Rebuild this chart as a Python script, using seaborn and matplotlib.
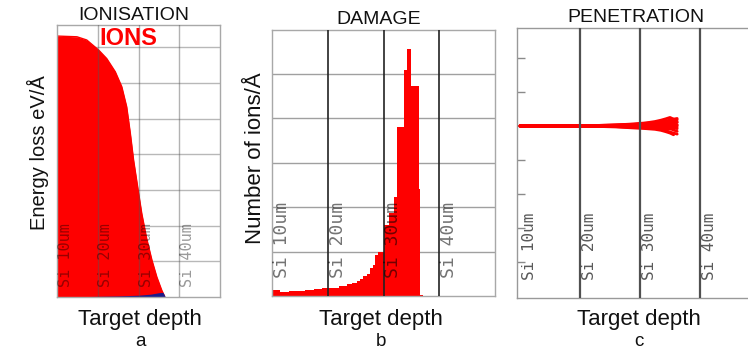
import numpy as np
import pandas as pd
import matplotlib
matplotlib.use("Agg")
import matplotlib.pyplot as plt
import seaborn as sns

# --- Ionisation: energy loss along the target depth (um) ---
ion_depth = [0, 4.9, 7.3, 10.2, 12.2, 14.3, 15.9, 17.1, 18.0, 18.8, 19.8,
             20.8, 22.0, 23.3, 24.5, 25.7, 26.4]
ion_energy = [7.31, 7.29, 7.20, 6.92, 6.68, 6.31, 5.89, 5.33, 4.58, 3.83, 3.08,
              2.34, 1.64, 1.03, 0.56, 0.19, 0.02]
recoil_depth = [0, 5.7, 15.0, 20.0, 23.0, 25.0, 26.0, 26.6]
recoil_energy = [0, 0.01, 0.03, 0.05, 0.08, 0.12, 0.13, 0.0]

# --- Damage: number of ions per Å, histogram bins along the depth ---
damage_edges = [0, 1.5, 3, 4.5, 6, 7.5, 9, 10.5, 12, 13.4, 14.3, 15.2, 15.8,
                16.4, 17.0, 17.6, 18.1, 18.5, 19.1, 20.0, 21.0, 21.9, 22.4,
                23.6, 24.2, 24.9, 26.3, 26.5, 27.0]
damage_counts = [0.14, 0.09, 0.11, 0.12, 0.14, 0.15, 0.17, 0.19, 0.22, 0.26,
                 0.30, 0.34, 0.38, 0.45, 0.50, 0.62, 0.70, 0.92, 0.98, 1.60,
                 1.87, 2.22, 3.80, 5.08, 5.55, 4.72, 2.40, 0.03]

# --- Penetration: lateral position of individual ion tracks ---
track_depth = [0, 6, 12, 16, 19, 21, 22.5, 23.5, 24.3, 25.0, 25.6, 26.2]
track_offsets = [
    [0, 0, 0.01, 0.03, 0.05, 0.08, 0.10, 0.12, 0.15, 0.17, 0.20, 0.22],
    [0, 0, -0.01, -0.03, -0.06, -0.08, -0.10, -0.13, -0.17, -0.21, -0.26, None],
    [0, 0, 0, 0.01, 0.02, 0.04, 0.03, 0.06, 0.09, 0.13, 0.16, 0.12],
    [0, 0, 0, -0.01, -0.02, -0.05, -0.04, -0.07, -0.05, -0.09, -0.06, -0.03],
    [0, 0, 0.01, 0.02, 0.01, 0.03, 0.07, 0.10, 0.07, 0.04, 0.08, None],
    [0, 0, -0.01, -0.02, -0.04, -0.03, -0.06, -0.10, -0.14, -0.18, -0.21, -0.24],
    [0, 0, 0, 0.02, 0.04, 0.06, 0.05, 0.02, 0.05, 0.10, 0.14, 0.18],
    [0, 0, 0, 0, -0.01, 0.01, 0.03, 0.0, -0.03, 0.01, 0.05, 0.02],
    [0, 0, 0.01, 0, -0.02, -0.04, -0.02, 0.02, 0.06, 0.03, None, None],
    [0, 0, 0, -0.02, -0.03, -0.01, -0.04, -0.08, -0.11, -0.08, -0.12, -0.16],
    [0, 0, 0.01, 0.03, 0.06, 0.09, 0.13, 0.17, 0.21, 0.25, 0.20, None],
    [0, 0, 0, 0.01, 0.0, -0.02, 0.01, 0.04, 0.02, -0.02, -0.05, -0.08],
    [0, 0, -0.01, -0.01, 0.0, 0.02, 0.0, -0.03, -0.06, -0.04, -0.01, 0.03],
    [0, 0, 0, 0.01, 0.03, 0.02, 0.05, 0.08, 0.12, 0.10, 0.07, 0.10],
]

layer_lines = [10, 20, 30]
layer_labels = ["Si 10um", "Si 20um", "Si 30um", "Si 40um"]

RED = "#fe0000"
NAVY = "#1c1c8a"
FRAME = "#a8a8a8"

sns.set_theme(style="white")
plt.rcParams["font.family"] = ["Liberation Sans", "DejaVu Sans"]

fig = plt.figure(figsize=(7.48, 3.51), dpi=100)
W, H = 748, 351


def px_axes(left, top, right, bottom):
    return fig.add_axes([left / W, 1 - bottom / H, (right - left) / W, (bottom - top) / H])


def frame(ax, color=FRAME):
    for s in ax.spines.values():
        s.set_visible(True)
        s.set_color(color)
        s.set_linewidth(1.0)
    ax.set_xlabel("")
    ax.set_ylabel("")
    ax.tick_params(length=0, labelleft=False, labelbottom=False)


# ---------------- (a) Ionisation ----------------
ax_a = px_axes(57, 25, 220, 297)
for v in range(1, 8):
    ax_a.axhline(v, color="#b8b8b8", lw=1.0, zorder=0)
ax_a.fill_between(ion_depth, ion_energy, color=RED, lw=0, zorder=1)
sns.lineplot(x=ion_depth, y=ion_energy, color=RED, lw=1.0, ax=ax_a, zorder=2)
ax_a.fill_between(recoil_depth, recoil_energy, color=NAVY, lw=0, zorder=2)
for v in layer_lines:
    ax_a.axvline(v, color="#555555", alpha=0.45, lw=1.0, zorder=3)
for i, lab in enumerate(layer_labels):
    ax_a.text(2.0 + 10 * i, 0.28, lab, rotation=90, ha="center", va="bottom",
              fontsize=11, family="DejaVu Sans Mono", color="black", alpha=0.4, zorder=4)
ax_a.text(0.436, 0.952, "IONS", transform=ax_a.transAxes, ha="center", va="center",
          fontsize=17, fontweight="bold", color=RED, zorder=5)
ax_a.set_xlim(0, 40)
ax_a.set_ylim(0, 7.62)
frame(ax_a)

# ---------------- (b) Damage ----------------
ax_b = px_axes(272, 30, 495, 296)
for v in range(1, 6):
    ax_b.axhline(v, color="#a0a0a0", lw=1.0, zorder=0)
centers = [(a + b) / 2 for a, b in zip(damage_edges[:-1], damage_edges[1:])]
sns.histplot(x=centers, weights=damage_counts, bins=damage_edges, element="step",
             fill=True, color=RED, alpha=1.0, linewidth=0, ax=ax_b, zorder=1)
for v in layer_lines:
    ax_b.axvline(v, color="#222222", lw=1.2, zorder=3)
for i, lab in enumerate(layer_labels):
    ax_b.text(1.75 + 10 * i, 0.4, lab, rotation=90, ha="center", va="bottom",
              fontsize=13, family="DejaVu Sans Mono", color="black", alpha=0.55, zorder=4)
ax_b.set_xlim(0, 40)
ax_b.set_ylim(0, 5.98)
frame(ax_b)

# ---------------- (c) Penetration ----------------
ax_c = px_axes(517, 28, 760, 298)
rows = []
for k, offs in enumerate(track_offsets):
    for d, o in zip(track_depth, offs):
        if o is not None:
            rows.append({"ion": k, "depth": d, "lateral": o})
tracks = pd.DataFrame(rows)
sns.lineplot(data=tracks, x="depth", y="lateral", units="ion", estimator=None,
             sort=False, color=RED, lw=2.0, ax=ax_c, zorder=2)
for v in layer_lines:
    ax_c.axvline(v, color="#505050", lw=1.6, zorder=3)
for i, lab in enumerate(layer_labels):
    ax_c.text(1.6 + 10 * i, -4.53, lab, rotation=90, ha="center", va="bottom",
              fontsize=11.5, family="DejaVu Sans Mono", color="black", alpha=0.65, zorder=4)
ax_c.set_xlim(-0.5, 40)
ax_c.set_ylim(-5.06, 2.88)
frame(ax_c, color="#999999")
ax_c.set_yticks(range(-4, 3))
ax_c.tick_params(axis="y", direction="in", length=6, width=1, color="#8a8a8a", left=True)

# ---------------- titles and labels ----------------
fig.text(134 / W, 1 - 15 / H, "IONISATION", ha="center", va="center", fontsize=14, color="#111111")
fig.text(379 / W, 1 - 19 / H, "DAMAGE", ha="center", va="center", fontsize=14, color="#111111")
fig.text(636 / W, 1 - 17 / H, "PENETRATION", ha="center", va="center", fontsize=14, color="#111111")

fig.text(38 / W, 1 - 153 / H, "Energy loss eV/Å", rotation=90, ha="center", va="center",
         fontsize=14.5, color="#111111")
fig.text(256 / W, 1 - 158 / H, "Number of ions/Å", rotation=90, ha="center", va="center",
         fontsize=16, color="#111111")

for xc, letter in [(140, "a"), (381, "b"), (639, "c")]:
    fig.text(xc / W, 1 - 325 / H, "Target depth", ha="center", va="baseline",
             fontsize=16, color="#111111")
    fig.text(xc / W, 1 - 350 / H, letter, ha="center", va="bottom",
             fontsize=13.5, color="#111111")

fig.savefig("out.png", dpi=100)
